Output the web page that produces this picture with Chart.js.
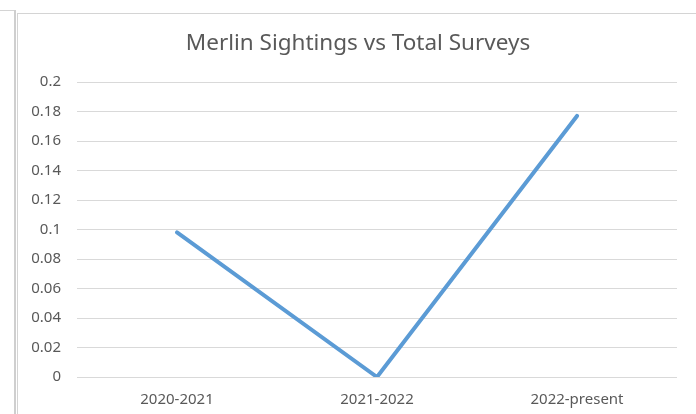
<!DOCTYPE html>
<html>
<head>
<meta charset="utf-8">
<script src="https://cdn.jsdelivr.net/npm/chart.js@4/dist/chart.umd.min.js"></script>
<style>
  body { margin: 0; background: #fff; }
  #wrap { position: relative; width: 696px; height: 414px; overflow: hidden; }
  #myChart { position: absolute; left: 0; top: 0; }
  .ln { position: absolute; background: #d4d4d4; }
</style>
</head>
<body>
<div id="wrap">
  <canvas id="myChart" width="696" height="414"></canvas>
  <div class="ln" style="left:0;top:10px;width:15px;height:1px;"></div>
  <div class="ln" style="left:14px;top:10px;width:2px;height:404px;background:#cfcfcf;"></div>
  <div class="ln" style="left:17px;top:13px;width:679px;height:1px;"></div>
  <div class="ln" style="left:17px;top:13px;width:1px;height:401px;"></div>
</div>
<script>
// data
const titulo = 'Merlin Sightings vs Total Surveys';
const periodos = ['2020-2021', '2021-2022', '2022-present'];
const avistamientos = [0.098, 0, 0.177];
const yTicks = [0, 0.02, 0.04, 0.06, 0.08, 0.1, 0.12, 0.14, 0.16, 0.18, 0.2];

var myChart;

// title centred on the chart frame (not the canvas), like the excel one
const tituloPlugin = {
    id: 'tituloExcel',
    afterDraw: (chart) => {
        const ctx = chart.ctx;
        ctx.save();
        ctx.fillStyle = '#595959';
        ctx.font = '22.5px "Noto Sans"';
        ctx.textAlign = 'center';
        ctx.textBaseline = 'middle';
        ctx.fillText(titulo, 358, 44);
        ctx.restore();
    }
};

window.addEventListener('DOMContentLoaded', (event) => {
    let info = {
        labels: periodos,
        datasets: [{
            label: 'Merlin',
            borderColor: '#5b9bd5',
            backgroundColor: '#5b9bd5',
            borderWidth: 4,
            borderCapStyle: 'round',
            borderJoinStyle: 'round',
            pointRadius: 0,
            tension: 0,
            data: avistamientos,
        }]
    };

    let config = {
        type: 'line',
        data: info,
        plugins: [tituloPlugin],
        options: {
            responsive: false,
            animation: false,
            layout: { padding: { left: 0, right: 19, top: 82, bottom: 0 } },
            plugins: {
                legend: { display: false },
                tooltip: { enabled: false },
                title: { display: false }
            },
            scales: {
                x: {
                    offset: true,
                    grid: { display: false, drawTicks: false },
                    border: { display: false },
                    ticks: {
                        color: '#595959',
                        font: { family: 'Noto Sans', size: 15 },
                        padding: 14,
                        maxRotation: 0
                    },
                    afterFit: (s) => { s.height = 37; }
                },
                y: {
                    min: 0,
                    max: 0.2,
                    afterBuildTicks: (s) => { s.ticks = yTicks.map(v => ({ value: v })); },
                    grid: { color: '#d9d9d9', lineWidth: 1, drawTicks: false },
                    border: { display: false },
                    ticks: {
                        color: '#595959',
                        font: { family: 'Noto Sans', size: 15 },
                        padding: 16,
                        callback: (v) => String(Math.round(v * 100) / 100)
                    },
                    afterFit: (s) => { s.width = 77; }
                }
            }
        }
    };

    myChart = new Chart(document.getElementById('myChart'), config);
});
</script>
</body>
</html>
